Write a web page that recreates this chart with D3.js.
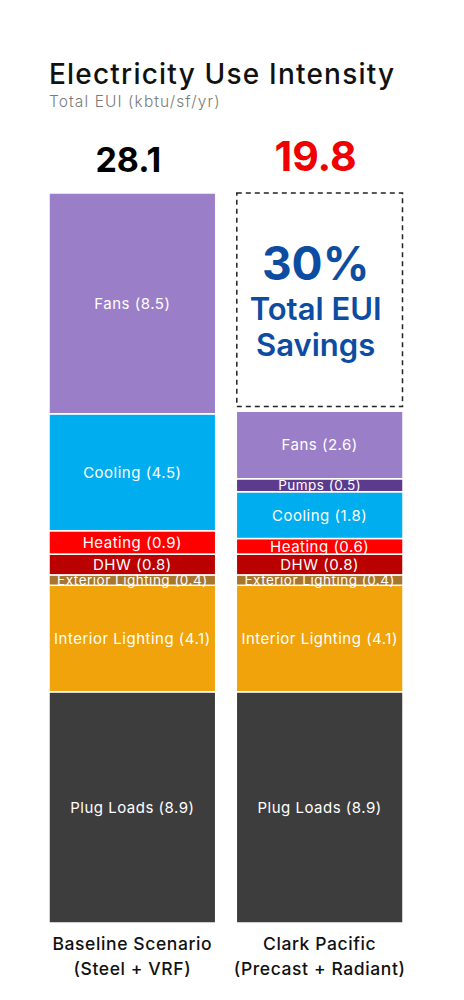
<!DOCTYPE html>
<html>
<head>
<meta charset="utf-8">
<script src="https://cdn.jsdelivr.net/npm/d3@7"></script>
<style>
  body { margin: 0; background: #fff; }
  svg { display: block; font-family: "Inter", "Noto Sans", sans-serif; }
</style>
</head>
<body>
<div id="chart"></div>
<script>
// scenarios and their end-use breakdown, bottom to top
const scenarios = ["Baseline Scenario", "Clark Pacific"];
const scenarioSubtitles = ["(Steel + VRF)", "(Precast + Radiant)"];
const endUses = ["Plug Loads", "Interior Lighting", "Exterior Lighting", "DHW", "Heating", "Cooling", "Pumps", "Fans"];
const baselineValues = [8.9, 4.1, 0.4, 0.8, 0.9, 4.5, 0, 8.5];
const clarkValues = [8.9, 4.1, 0.4, 0.8, 0.6, 1.8, 0.5, 2.6];
const totals = [28.1, 19.8];
const savingsLabel = ["30%", "Total EUI", "Savings"];
const endUseColors = ["#3d3d3d", "#f0a30a", "#a8762c", "#bb0000", "#ff0000", "#00adef", "#5c3b8f", "#9b7ec8"];

const width = 464, height = 1000;
const margin = {top: 193, bottom: 77, left: 49, right: 61};

const svg = d3.select("#chart").append("svg")
    .attr("width", width)
    .attr("height", height);

const x = d3.scaleBand()
    .domain(scenarios)
    .range([margin.left, width - margin.right])
    .paddingInner(0.11);

const y = d3.scaleLinear()
    .domain([0, d3.max(totals)])
    .range([height - margin.bottom, margin.top]);

const color = d3.scaleOrdinal().domain(endUses).range(endUseColors);

// build a table for d3.stack
const table = scenarios.map((s, i) => {
    const row = {scenario: s};
    endUses.forEach((e, j) => row[e] = [baselineValues, clarkValues][i][j]);
    return row;
});
const series = d3.stack().keys(endUses)(table);

// title
svg.append("text")
    .attr("x", margin.left).attr("y", 84)
    .attr("font-size", 28).attr("font-weight", 500).attr("fill", "#111")
    .attr("letter-spacing", 1.2)
    .text("Electricity Use Intensity");
svg.append("text")
    .attr("x", margin.left).attr("y", 107)
    .attr("font-size", 15.5).attr("font-weight", 300).attr("fill", "#7a7a7a")
    .attr("letter-spacing", 1.1)
    .text("Total EUI (kbtu/sf/yr)");

// segments
const layer = svg.selectAll(".layer")
    .data(series)
    .join("g")
    .attr("class", "layer")
    .attr("fill", d => color(d.key));

layer.selectAll("rect")
    .data(d => d.map(p => Object.assign(p, {key: d.key})).filter(p => p[1] - p[0] > 0))
    .join("rect")
    .attr("x", d => x(d.data.scenario))
    .attr("width", x.bandwidth())
    .attr("y", d => y(d[1]))
    .attr("height", d => y(d[0]) - y(d[1]))
    .attr("stroke", "#fff")
    .attr("stroke-width", 1.5);

layer.selectAll("text")
    .data(d => d.filter(p => p[1] - p[0] > 0))
    .join("text")
    .attr("x", d => x(d.data.scenario) + x.bandwidth() / 2)
    .attr("y", d => (y(d[0]) + y(d[1])) / 2)
    .attr("dy", "0.36em")
    .attr("text-anchor", "middle")
    .attr("fill", "#fff")
    .attr("letter-spacing", 0.5)
    .attr("font-size", d => (y(d[0]) - y(d[1])) < 14 ? 13.5 : 15)
    .text(d => `${d.key} (${d3.format(".1f")(d[1] - d[0])})`);

// totals above bars
svg.selectAll(".total")
    .data(totals)
    .join("text")
    .attr("class", "total")
    .attr("x", (d, i) => x(scenarios[i]) + x.bandwidth() / 2 - 4)
    .attr("y", (d, i) => i ? 171 : 172)
    .attr("text-anchor", "middle")
    .attr("font-weight", 700)
    .attr("font-size", (d, i) => i ? 41 : 34)
    .attr("fill", (d, i) => i ? "#f00000" : "#000")
    .text(d => d3.format(".1f")(d));

// savings box
const sx = x(scenarios[1]);
svg.append("rect")
    .attr("x", sx + 0.5)
    .attr("y", y(totals[0]))
    .attr("width", x.bandwidth() - 1)
    .attr("height", y(totals[1]) - y(totals[0]) - 2)
    .attr("fill", "none")
    .attr("stroke", "#222")
    .attr("stroke-width", 1.5)
    .attr("stroke-dasharray", "5,4");

const cx = sx + x.bandwidth() / 2 - 4;
svg.append("text")
    .attr("x", cx).attr("y", 280)
    .attr("text-anchor", "middle").attr("font-weight", 700)
    .attr("font-size", 46).attr("fill", "#0c4da2")
    .text(savingsLabel[0]);
svg.append("text")
    .attr("x", cx).attr("y", 320)
    .attr("text-anchor", "middle").attr("font-weight", 600)
    .attr("font-size", 31).attr("fill", "#0c4da2")
    .text(savingsLabel[1]);
svg.append("text")
    .attr("x", cx).attr("y", 356)
    .attr("text-anchor", "middle").attr("font-weight", 600)
    .attr("font-size", 31).attr("fill", "#0c4da2")
    .text(savingsLabel[2]);

// category labels
const labels = svg.selectAll(".cat")
    .data(scenarios)
    .join("text")
    .attr("class", "cat")
    .attr("text-anchor", "middle")
    .attr("font-size", 17.5)
    .attr("font-weight", 500)
    .attr("letter-spacing", 0.6)
    .attr("fill", "#111");
labels.append("tspan")
    .attr("x", d => x(d) + x.bandwidth() / 2)
    .attr("y", 950)
    .text(d => d);
labels.append("tspan")
    .attr("x", d => x(d) + x.bandwidth() / 2)
    .attr("y", 975)
    .text((d, i) => scenarioSubtitles[i]);
</script>
</body>
</html>
